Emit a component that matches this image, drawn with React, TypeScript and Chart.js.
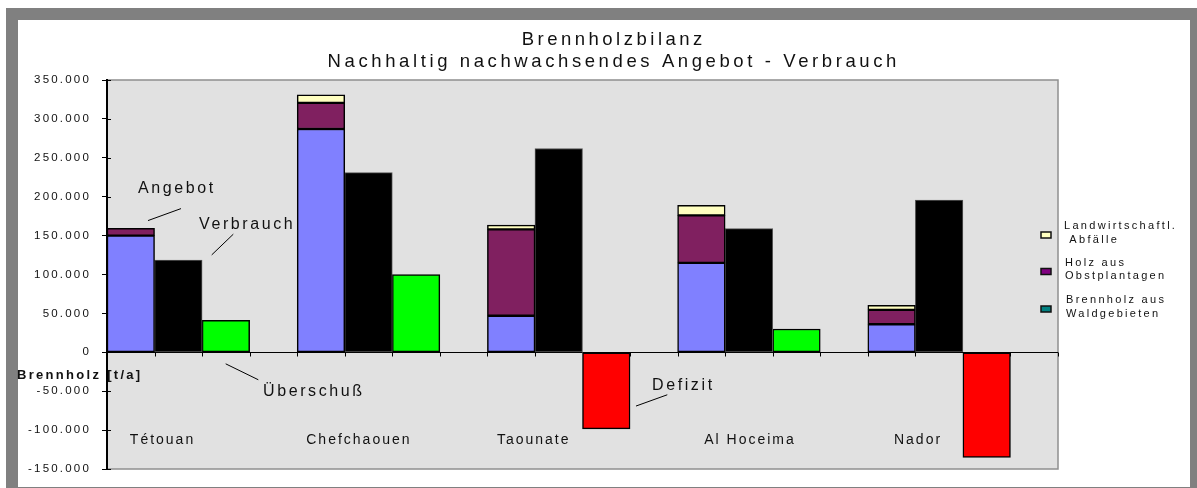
import React, { useEffect, useRef } from 'react';
import { Chart, registerables } from 'chart.js';

Chart.register(...registerables);

// Regions (Nordmarokko) and firewood balance in t/a
const categories = ['Tétouan', 'Chefchaouen', 'Taounate', 'Al Hoceima', 'Nador'];
const brennholzWald = [150000, 287000, 47000, 115000, 36000];
const holzObst = [9500, 33500, 111000, 61000, 18500];
const abfaelle = [0, 10500, 5500, 13000, 6000];
const verbrauch = [118500, 231000, 262000, 159000, 195500];
const bilanz = [41000, 100000, -98500, 30000, -135000];

const yMin = -150000;
const yMax = 350000;
const yStep = 50000;

const titleLines = ['Brennholzbilanz', 'Nachhaltig nachwachsendes Angebot - Verbrauch'];
const axisTitle = 'Brennholz [t/a]';
const legendLabels = [
  ['Landwirtschaftl.', ' Abfälle'],
  ['Holz aus', 'Obstplantagen'],
  ['Brennholz aus', 'Waldgebieten'],
];
const legendColors = ['#ffffc0', '#800080', '#008080'];

const FONT = '"Liberation Sans", Arial, Helvetica, sans-serif';
const TEXT = '#111111';

// every region occupies four bar slots: supply stack, consumption, balance, gap
const SLOTS = 4;
const slotLabels = categories.flatMap((c) => Array(SLOTS).fill(c));
const inSlot = (values: number[], slot: number) =>
  slotLabels.map((_, i) => (i % SLOTS === slot ? values[Math.floor(i / SLOTS)] : null));

// callouts placed in (slot, value) coordinates
const callouts = [
  { text: 'Angebot', at: [0.652, 204500], line: [[0.862, 169300], [1.556, 184700]] },
  { text: 'Verbrauch', at: [1.935, 158200], line: [[2.202, 125200], [2.656, 151800]] },
  { text: 'Überschuß', at: [3.281, -55900], line: [[2.496, -14800], [3.182, -35300]] },
  { text: 'Defizit', at: [11.462, -48200], line: [[11.125, -69100], [11.783, -54600]] },
];
const categoryLabelShift = [0.48, 0.19, 0.2, 0.56, 0.55];
const categoryLabelValue = -117500;

function drawText(
  ctx: CanvasRenderingContext2D,
  s: string,
  x: number,
  y: number,
  size: number,
  spacing: number,
  weight = 'normal',
  align: CanvasTextAlign = 'left'
) {
  ctx.save();
  ctx.font = `${weight} ${size}px ${FONT}`;
  (ctx as any).letterSpacing = `${spacing}px`;
  ctx.fillStyle = TEXT;
  ctx.textAlign = align;
  ctx.textBaseline = 'alphabetic';
  ctx.fillText(s, align === 'center' ? x + spacing / 2 : x, y);
  ctx.restore();
}

const decorations = {
  id: 'decorations',
  beforeDraw(chart: any) {
    const { ctx, chartArea: a, width, height } = chart;
    ctx.save();
    ctx.fillStyle = '#ffffff';
    ctx.fillRect(0, 0, width, height);
    // window frame
    ctx.fillStyle = '#808080';
    ctx.fillRect(6, 8, width - 6, 12);
    ctx.fillRect(6, 8, 12, height - 8);
    ctx.fillRect(1190, 8, width - 1190, height - 8);
    ctx.fillRect(6, 487, width - 6, 1);
    // plot area
    ctx.fillStyle = '#e1e1e1';
    ctx.fillRect(a.left, a.top, a.right - a.left, a.bottom - a.top);
    ctx.strokeStyle = '#8f8f8f';
    ctx.lineWidth = 1.5;
    ctx.strokeRect(a.left, a.top, a.right - a.left, a.bottom - a.top);
    ctx.restore();
    ctx.letterSpacing = '2.2px';
  },
  beforeDatasetsDraw(chart: any) {
    const { ctx, chartArea: a } = chart;
    const y = chart.scales.y;
    const slotW = (a.right - a.left) / slotLabels.length;
    const zero = Math.round(y.getPixelForValue(0)) + 0.5;
    ctx.save();
    ctx.strokeStyle = '#000';
    ctx.lineWidth = 1;
    // inner half of the value-axis tick marks
    for (const t of y.ticks) {
      const py = Math.round(y.getPixelForValue(t.value)) + 0.5;
      ctx.beginPath();
      ctx.moveTo(y.right, py);
      ctx.lineTo(y.right + 4, py);
      ctx.stroke();
    }
    // zero line with slot tick marks
    ctx.beginPath();
    ctx.moveTo(a.left, zero);
    ctx.lineTo(a.right, zero);
    ctx.stroke();
    for (let i = 1; i <= slotLabels.length; i++) {
      const px = Math.round(a.left + i * slotW) + 0.5;
      ctx.beginPath();
      ctx.moveTo(px, zero);
      ctx.lineTo(px, zero + 4);
      ctx.stroke();
    }
    ctx.restore();
  },
  afterDraw(chart: any) {
    const { ctx, chartArea: a } = chart;
    const ys = chart.scales.y;
    const slotW = (a.right - a.left) / slotLabels.length;
    const px = (slot: number) => a.left + slot * slotW;
    const py = (v: number) => ys.getPixelForValue(v);

    // title
    drawText(ctx, titleLines[0], 612, 45, 18.5, 3.5, 'normal', 'center');
    drawText(ctx, titleLines[1], 612, 66.5, 18.5, 3.6, 'normal', 'center');

    // y axis caption
    drawText(ctx, axisTitle, 17, 379, 13, 2.3, 'bold');

    // region names
    categories.forEach((c, i) => {
      drawText(ctx, c, px(i * SLOTS + categoryLabelShift[i]), py(categoryLabelValue), 14, 2);
    });

    // callouts with leader lines
    ctx.save();
    ctx.strokeStyle = '#000';
    ctx.lineWidth = 1;
    for (const n of callouts) {
      ctx.beginPath();
      ctx.moveTo(px(n.line[0][0]), py(n.line[0][1]));
      ctx.lineTo(px(n.line[1][0]), py(n.line[1][1]));
      ctx.stroke();
    }
    ctx.restore();
    for (const n of callouts) {
      drawText(ctx, n.text, px(n.at[0]), py(n.at[1]), 16, 2.6);
    }

    // legend
    const rowTop = [a.top + 152, a.top + 188.5, a.top + 226];
    const textX = [a.right + 6, a.right + 7, a.right + 8];
    legendLabels.forEach((lines, i) => {
      ctx.save();
      ctx.fillStyle = legendColors[i];
      ctx.fillRect(a.right - 17, rowTop[i], 10, 6);
      ctx.strokeStyle = '#111';
      ctx.lineWidth = 1.5;
      ctx.strokeRect(a.right - 17, rowTop[i], 10, 6);
      ctx.restore();
      lines.forEach((l, k) => {
        drawText(ctx, l, textX[i], rowTop[i] - 2.7 + k * 13.4, 11, 2.3);
      });
    });
  },
};

export default function App() {
  const canvasRef = useRef<HTMLCanvasElement | null>(null);

  useEffect(() => {
    document.body.style.margin = '0';
    const canvas = canvasRef.current;
    if (!canvas) return;

    const bar = {
      borderWidth: 1.5,
      borderColor: '#000',
      borderSkipped: false as const,
      barPercentage: 1,
      categoryPercentage: 1,
      stack: 'all',
    };

    const chart = new Chart(canvas, {
      type: 'bar',
      data: {
        labels: slotLabels,
        datasets: [
          { ...bar, label: 'Brennholz aus Waldgebieten', data: inSlot(brennholzWald, 0), backgroundColor: '#8080ff' },
          { ...bar, label: 'Holz aus Obstplantagen', data: inSlot(holzObst, 0), backgroundColor: '#802060' },
          { ...bar, label: 'Landwirtschaftl. Abfälle', data: inSlot(abfaelle, 0), backgroundColor: '#ffffc0' },
          { ...bar, label: 'Verbrauch', data: inSlot(verbrauch, 1), backgroundColor: '#000000', borderColor: '#555', borderWidth: 1 },
          {
            ...bar,
            label: 'Bilanz',
            data: inSlot(bilanz, 2),
            backgroundColor: (c: any) => ((c.raw ?? 0) >= 0 ? '#00ff00' : '#ff0000'),
          },
        ],
      },
      options: {
        animation: false,
        responsive: false,
        maintainAspectRatio: false,
        devicePixelRatio: 1,
        layout: { padding: { left: 0, top: 80, right: 139, bottom: 19 } },
        plugins: {
          legend: { display: false },
          title: { display: false },
          tooltip: { enabled: false },
        },
        scales: {
          x: {
            type: 'category',
            stacked: true,
            display: false,
          },
          y: {
            stacked: true,
            min: yMin,
            max: yMax,
            afterFit: (s: any) => {
              s.width = 107;
            },
            ticks: {
              stepSize: yStep,
              padding: 11,
              color: TEXT,
              font: { family: FONT, size: 11.5 },
              callback: (v: any) => Number(v).toLocaleString('de-DE'),
            },
            grid: { drawOnChartArea: false, drawTicks: true, tickLength: 5, color: '#000' },
            border: { display: true, color: '#000', width: 2 },
          },
        },
      },
      plugins: [decorations],
    });

    return () => chart.destroy();
  }, []);

  return (
    <div style={{ width: 1197, height: 488 }}>
      <canvas ref={canvasRef} width={1197} height={488} style={{ display: 'block' }} />
    </div>
  );
}
